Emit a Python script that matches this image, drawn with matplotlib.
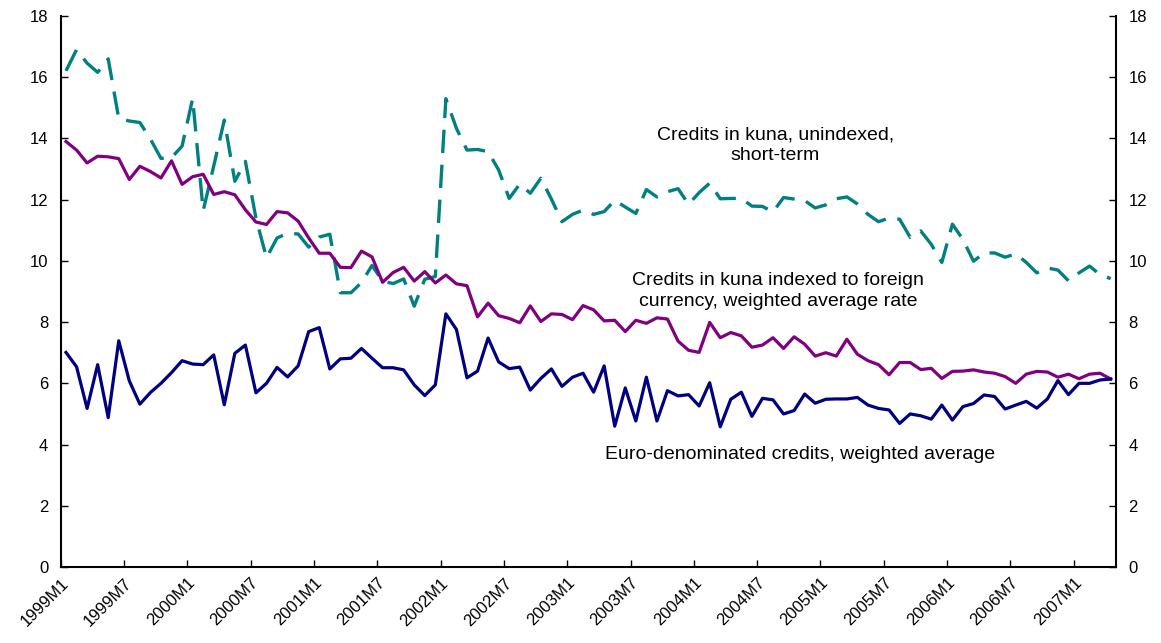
import matplotlib
matplotlib.use("Agg")
import matplotlib.pyplot as plt
import numpy as np

plt.rcParams['font.family'] = ['Liberation Sans', 'DejaVu Sans']

# monthly series, 1999M1 .. 2007M4
kuna_short = [16.21, 16.90, 16.46, 16.16, 16.60, 14.65, 14.57, 14.52, 13.98, 13.35,
              13.37, 13.75, 15.30, 11.64, 13.10, 14.60, 12.60, 13.25, 11.40, 10.10,
              10.75, 10.90, 10.88, 10.45, 10.78, 10.87, 8.96, 8.96, 9.29, 9.85,
              9.34, 9.26, 9.41, 8.52, 9.40, 9.49, 15.30, 14.33, 13.62, 13.64,
              13.57, 12.97, 12.04, 12.51, 12.21, 12.70, 12.02, 11.28, 11.52, 11.66,
              11.52, 11.61, 11.98, 11.76, 11.55, 12.33, 12.09, 12.26, 12.36, 11.85,
              12.23, 12.54, 12.03, 12.04, 12.04, 11.79, 11.78, 11.60, 12.07, 12.02,
              11.97, 11.73, 11.83, 12.03, 12.09, 11.86, 11.52, 11.28, 11.40, 11.36,
              10.77, 10.98, 10.54, 9.95, 11.20, 10.70, 9.99, 10.26, 10.26, 10.12,
              10.23, 9.95, 9.61, 9.77, 9.70, 9.35, 9.61, 9.83, 9.55, 9.42]

kuna_indexed = [13.90, 13.62, 13.20, 13.42, 13.40, 13.34, 12.66, 13.09, 12.92, 12.71,
                13.27, 12.50, 12.75, 12.83, 12.17, 12.26, 12.16, 11.67, 11.27, 11.19,
                11.61, 11.57, 11.30, 10.75, 10.25, 10.25, 9.79, 9.78, 10.32, 10.13,
                9.30, 9.62, 9.79, 9.34, 9.65, 9.28, 9.54, 9.25, 9.19, 8.17,
                8.62, 8.21, 8.12, 7.98, 8.53, 8.02, 8.27, 8.25, 8.08, 8.54,
                8.40, 8.04, 8.06, 7.69, 8.06, 7.96, 8.14, 8.10, 7.38, 7.08,
                7.01, 7.99, 7.49, 7.66, 7.55, 7.18, 7.25, 7.49, 7.14, 7.52,
                7.28, 6.89, 7.00, 6.89, 7.44, 6.95, 6.74, 6.61, 6.28, 6.68,
                6.68, 6.45, 6.49, 6.16, 6.39, 6.40, 6.44, 6.37, 6.33, 6.22,
                6.00, 6.30, 6.39, 6.37, 6.20, 6.30, 6.15, 6.30, 6.33, 6.14]

euro = [7.01, 6.54, 5.18, 6.61, 4.88, 7.39, 6.08, 5.32, 5.70, 6.00,
        6.35, 6.74, 6.63, 6.61, 6.93, 5.30, 6.98, 7.25, 5.69, 6.00,
        6.52, 6.21, 6.57, 7.69, 7.82, 6.47, 6.80, 6.82, 7.14, 6.82,
        6.51, 6.51, 6.44, 5.95, 5.60, 5.95, 8.27, 7.76, 6.18, 6.40,
        7.48, 6.70, 6.48, 6.53, 5.78, 6.16, 6.47, 5.90, 6.20, 6.33,
        5.71, 6.57, 4.60, 5.85, 4.77, 6.20, 4.77, 5.76, 5.59, 5.63,
        5.26, 6.02, 4.58, 5.48, 5.71, 4.92, 5.51, 5.46, 5.00, 5.11,
        5.65, 5.35, 5.48, 5.49, 5.49, 5.54, 5.29, 5.18, 5.13, 4.69,
        5.00, 4.94, 4.83, 5.29, 4.80, 5.24, 5.34, 5.62, 5.57, 5.16,
        5.29, 5.41, 5.19, 5.49, 6.09, 5.63, 6.00, 6.00, 6.11, 6.14]

tick_labels = ["1999M1", "1999M7", "2000M1", "2000M7", "2001M1", "2001M7",
               "2002M1", "2002M7", "2003M1", "2003M7", "2004M1", "2004M7",
               "2005M1", "2005M7", "2006M1", "2006M7", "2007M1"]

x = np.arange(len(euro))

fig = plt.figure(figsize=(11.61, 6.43), dpi=100)
ax = fig.add_axes([0.0523, 0.1182, 0.9089, 0.8569])

ax.plot(x, kuna_short, color='#008080', lw=2.4, dashes=(7, 3.5))
ax.plot(x, kuna_indexed, color='#800080', lw=2.3)
ax.plot(x, euro, color='#000080', lw=2.3)

ax.set_xlim(-0.5, len(euro) - 0.5)
ax.set_ylim(0, 18)
ax.set_yticks(np.arange(0, 19, 2))
ax.set_xticks(np.arange(len(tick_labels)) * 6 - 0.5)
ax.set_xticklabels(tick_labels, rotation=45, ha='right', va='top',
                   rotation_mode='anchor', fontsize=12)

ax.tick_params(axis='y', which='both', direction='in', length=5, width=1,
               left=True, right=True, labelleft=True, labelright=True,
               labelsize=12, pad=9)
ax.tick_params(axis='x', direction='in', length=5, width=1, pad=6)

ax.spines['top'].set_visible(False)
for s in ['left', 'right', 'bottom']:
    ax.spines[s].set_linewidth(1.5)

ax.text(67.2, 13.77, "Credits in kuna, unindexed,\nshort-term", ha='center',
        va='center', fontsize=14, multialignment='center', linespacing=1.3)
ax.text(67.5, 9.03, "Credits in kuna indexed to foreign\ncurrency, weighted average rate",
        ha='center', va='center', fontsize=14, multialignment='center', linespacing=1.3)
ax.text(69.6, 3.66, "Euro-denominated credits, weighted average", ha='center',
        va='center', fontsize=14)

fig.savefig("out.png", dpi=100)
